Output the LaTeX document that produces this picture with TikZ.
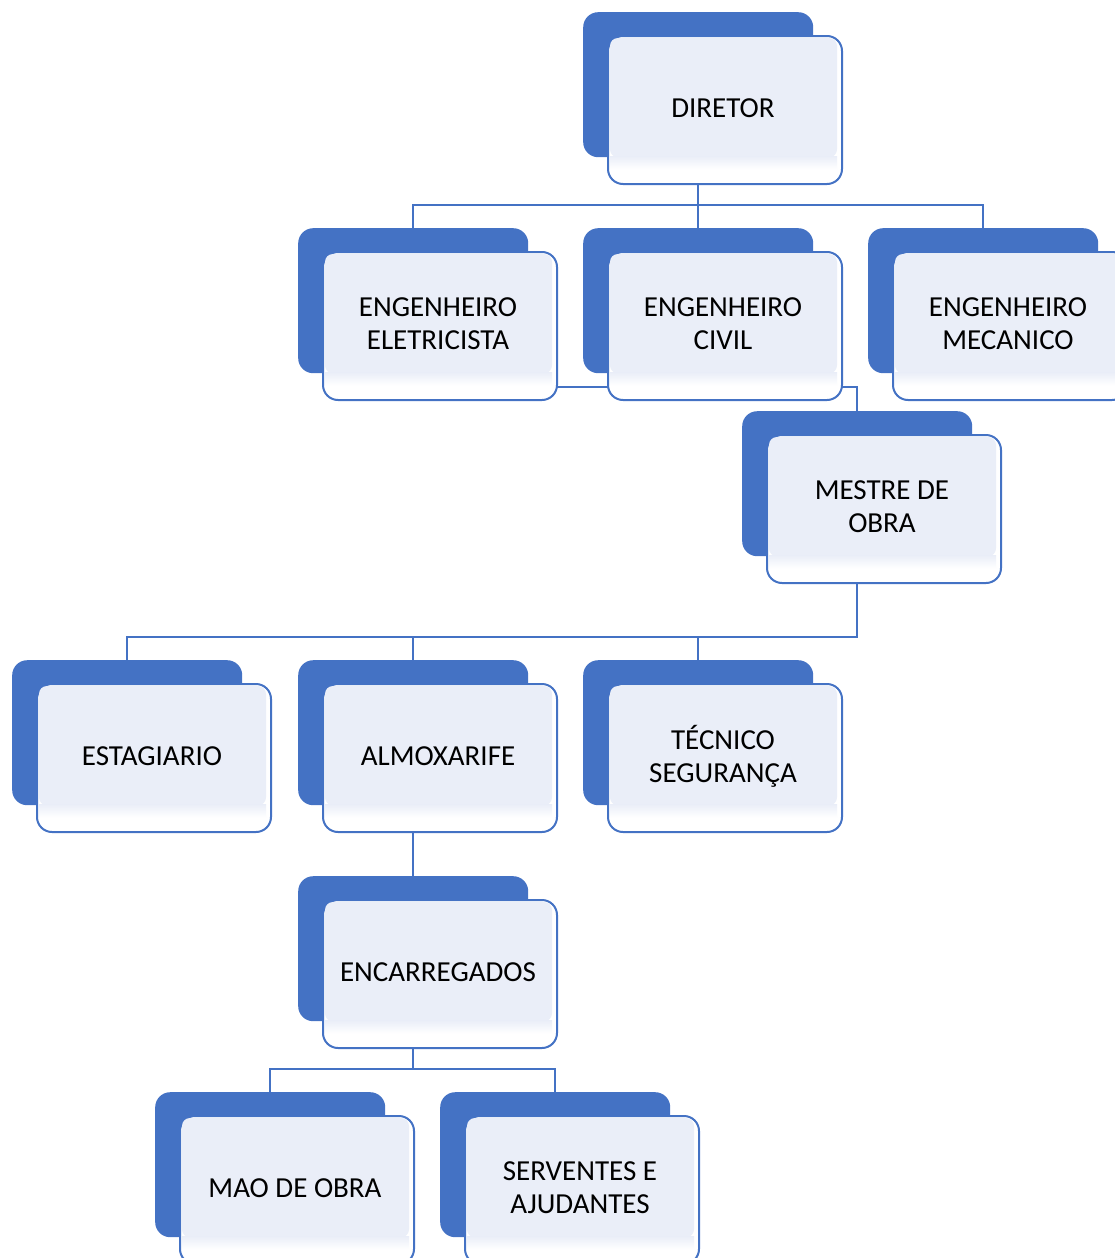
\documentclass[tikz,border=0pt]{standalone}
\usepackage{fontspec}
\setmainfont{Carlito}
\usetikzlibrary{calc}
\definecolor{oblue}{RGB}{68,114,196}
\definecolor{paleblue}{RGB}{234,238,248}
\pgfdeclarelayer{bg}
\pgfsetlayers{bg,main}
\tikzset{
  backbox/.style={fill=oblue, rounded corners=15pt, minimum width=230pt, minimum height=145pt, anchor=north west, inner sep=0pt},
  frontbox/.style={draw=oblue, line width=2pt, fill=white, rounded corners=15pt, minimum width=234pt, minimum height=148pt, anchor=north west, inner sep=0pt},
  boxtext/.style={font=\fontsize{29}{33}\selectfont, align=center, inner sep=0pt},
  conn/.style={draw=oblue, line width=2.5pt}
}
\newcommand{\orgbox}[4]{%
  \node[backbox] (#1b) at (#2,#3) {};
  \node[frontbox] (#1) at (#2+24,#3+23) {};
  \fill[paleblue, rounded corners=8pt] ($(#1.north west)+(3,3)$) rectangle ($(#1b.south -| #1.east)+(-6,0)$);
  \shade[top color=paleblue, bottom color=white] ($(#1b.south -| #1.west)+(3,-1)$) rectangle ($(#1b.south -| #1.east)+(-6,12)$);
  \node[boxtext] (#1t) at ($(#1.center)+(-2,-2)$) {#4};
}
\begin{document}
\begin{tikzpicture}[x=1pt,y=-1pt]
\useasboundingbox (0,0) rectangle (1115,1258);
\clip (0,0) rectangle (1115,1258);
\coordinate (busA) at (0,205);
\coordinate (busB) at (0,387);
\coordinate (busC) at (0,637);
\coordinate (busD) at (0,1069);
% boxes
\orgbox{dir}{583}{12}{DIRETOR}
\orgbox{ele}{298}{228}{ENGENHEIRO\\ELETRICISTA}
\orgbox{civ}{583}{228}{ENGENHEIRO\\CIVIL}
\orgbox{mec}{868}{228}{ENGENHEIRO\\MECANICO}
\orgbox{mes}{742}{411}{MESTRE DE\\OBRA}
\orgbox{est}{12}{660}{ESTAGIARIO}
\orgbox{alm}{298}{660}{ALMOXARIFE}
\orgbox{tec}{583}{660}{TÉCNICO\\SEGURANÇA}
\orgbox{enc}{298}{876}{ENCARREGADOS}
\orgbox{mao}{155}{1092}{MAO DE OBRA}
\orgbox{ser}{440}{1092}{SERVENTES E\\AJUDANTES}
% connectors behind the boxes
\begin{pgfonlayer}{bg}
\draw[conn] (dirb.south) -- (dirb.south |- busA) -| (eleb.north);
\draw[conn] (dirb.south |- busA) -| (mecb.north);
\draw[conn] (dirb.south) -- (civb.north);
\draw[conn] (eleb.south) -- (eleb.south |- busB) -| (mesb.north);
\draw[conn] (mesb.south) -- (mesb.south |- busC) -| (estb.north);
\draw[conn] (almb.north |- busC) -- (almb.north);
\draw[conn] (tecb.north |- busC) -- (tecb.north);
\draw[conn] (almb.south) -- (encb.north);
\draw[conn] (encb.south) -- (encb.south |- busD) -| (maob.north);
\draw[conn] (encb.south |- busD) -| (serb.north);
\end{pgfonlayer}
\end{tikzpicture}
\end{document}
